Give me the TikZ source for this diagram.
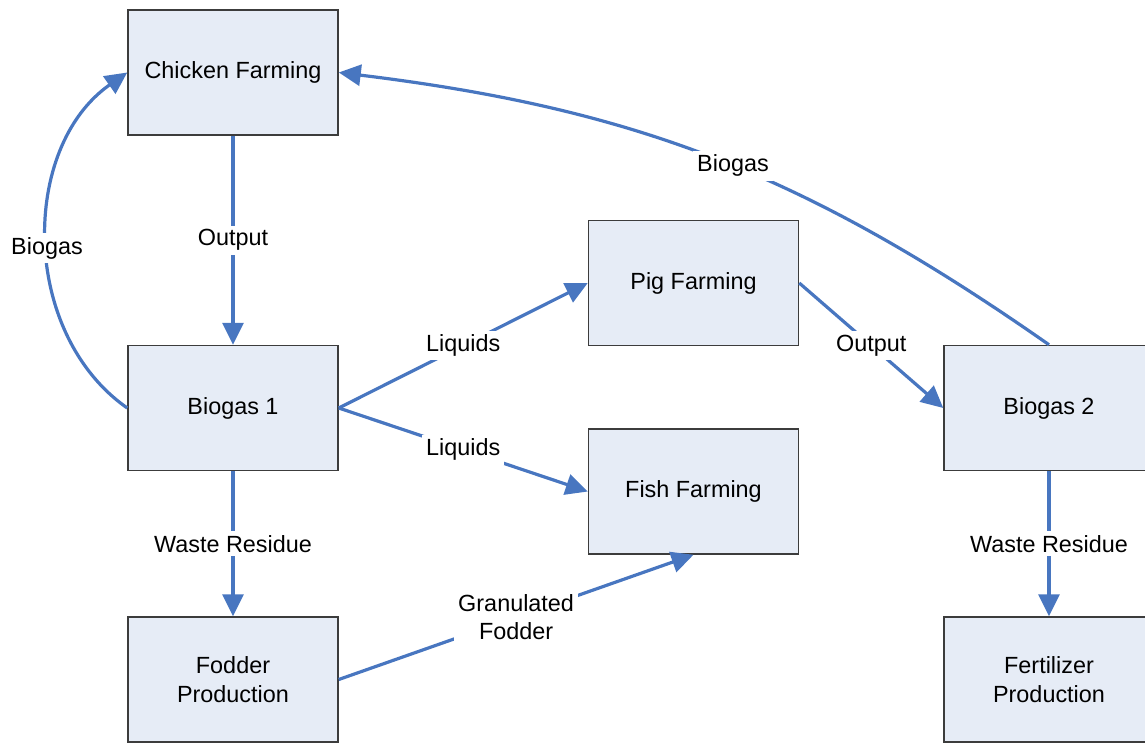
\documentclass[tikz,border=0pt]{standalone}
\usepackage{fontspec}
\setmainfont{Liberation Sans}
\usetikzlibrary{arrows.meta}
\definecolor{boxfill}{RGB}{230,236,246}
\definecolor{boxline}{RGB}{60,60,60}
\definecolor{flowblue}{RGB}{72,118,192}

\begin{document}
\begin{tikzpicture}[x=0.5pt, y=-0.5pt,
    unit/.style={draw=boxline, fill=boxfill, line width=0.75pt,
        minimum width=105pt, minimum height=62.5pt, align=center,
        font=\fontsize{11.7}{14.4}\selectfont},
    flow/.style={draw=flowblue, line width=1.6pt,
        -{Triangle[length=11pt, width=10.5pt]}},
    tag/.style={fill=white, inner sep=2pt, align=center,
        font=\fontsize{11.7}{14.4}\selectfont}]

\useasboundingbox (0,0) rectangle (1145,743);

% 左列
\node[unit] (chicken) at (233,72.5) {Chicken Farming};
\node[unit] (bio1) at (233,408) {Biogas 1};
\node[unit] (fodder) at (233,679.5) {Fodder\\Production};

% 中列
\node[unit] (pig) at (693.5,283) {Pig Farming};
\node[unit] (fish) at (693.5,491.5) {Fish Farming};

% 右列
\node[unit] (bio2) at (1049,408) {Biogas 2};
\node[unit] (fert) at (1049,679.5) {Fertilizer\\Production};

% 连线
\draw[flow] (chicken) -- node[tag] {Output} (bio1);
\draw[flow] (bio1.west) to[bend left=55] node[tag, pos=0.48] {Biogas} (chicken.west);
\draw[flow] (bio2.north) to[bend right=14] node[tag, pos=0.47] {Biogas} (chicken.east);
\draw[flow] (bio1.east) -- node[tag] {Liquids} (pig.west);
\draw[flow] (bio1.east) -- node[tag] {Liquids} (fish.west);
\draw[flow] (pig.east) -- node[tag] {Output} (bio2.west);
\draw[flow] (bio1) -- node[tag] {Waste Residue} (fodder);
\draw[flow] (bio2) -- node[tag] {Waste Residue} (fert);
\draw[flow] (fodder.east) -- node[tag] {Granulated\\Fodder} (fish.south);

\end{tikzpicture}
\end{document}
